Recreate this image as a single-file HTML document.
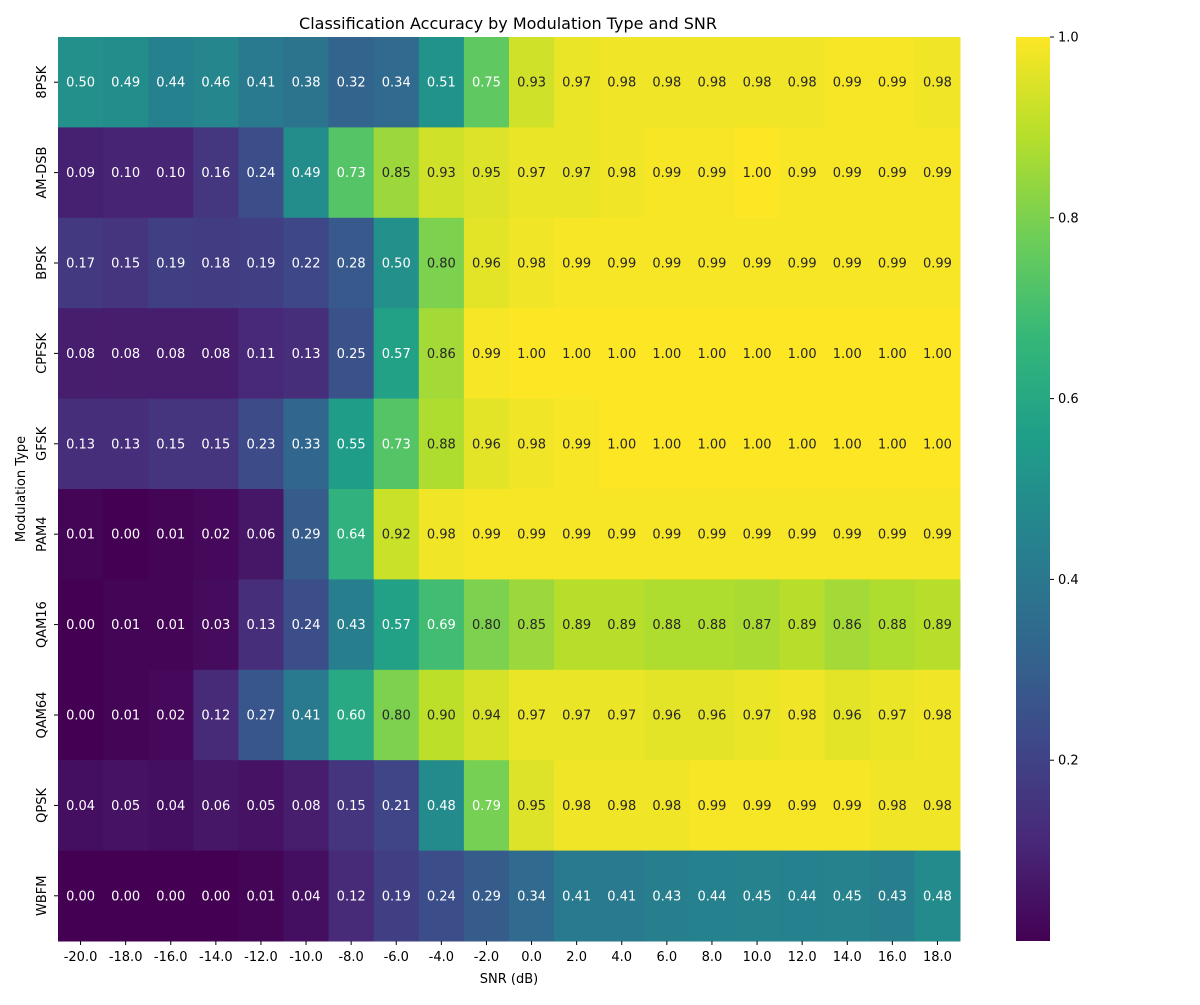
<!DOCTYPE html>
<html><head><meta charset="utf-8"><style>
body{margin:0;background:#fff;font-family:"Liberation Sans","DejaVu Sans",sans-serif;}
svg text{font-family:"DejaVu Sans","Liberation Sans",sans-serif;}
</style></head><body>
<svg id="chart" width="1200" height="1000" xmlns="http://www.w3.org/2000/svg">
<defs><linearGradient id="vg" x1="0" y1="1" x2="0" y2="0">
<stop offset="0" stop-color="#440154"/><stop offset="0.111" stop-color="#482878"/><stop offset="0.222" stop-color="#3e4989"/><stop offset="0.333" stop-color="#31688e"/><stop offset="0.444" stop-color="#26828e"/><stop offset="0.556" stop-color="#1f9e89"/><stop offset="0.667" stop-color="#35b779"/><stop offset="0.778" stop-color="#6ece58"/><stop offset="0.889" stop-color="#b5de2b"/><stop offset="1" stop-color="#fde725"/>
</linearGradient></defs>
<text x="508" y="29" font-size="16" text-anchor="middle">Classification Accuracy by Modulation Type and SNR</text>
<g id="cells"></g>
<g id="xt"></g><g id="yt"></g>
<text x="509" y="983" font-size="13" text-anchor="middle">SNR (dB)</text>
<text x="25" y="489" font-size="13" text-anchor="middle" transform="rotate(-90 25 489)">Modulation Type</text>
<rect x="1016" y="37" width="34" height="904" fill="url(#vg)"/>
<g id="cb"></g>
</svg>
<script>
const categories=["8PSK","AM-DSB","BPSK","CPFSK","GFSK","PAM4","QAM16","QAM64","QPSK","WBFM"];
const snrLabels=["-20.0","-18.0","-16.0","-14.0","-12.0","-10.0","-8.0","-6.0","-4.0","-2.0","0.0","2.0","4.0","6.0","8.0","10.0","12.0","14.0","16.0","18.0"];
const r8PSK=[0.50,0.49,0.44,0.46,0.41,0.38,0.32,0.34,0.51,0.75,0.93,0.97,0.98,0.98,0.98,0.98,0.98,0.99,0.99,0.98];
const rAMDSB=[0.09,0.10,0.10,0.16,0.24,0.49,0.73,0.85,0.93,0.95,0.97,0.97,0.98,0.99,0.99,1.00,0.99,0.99,0.99,0.99];
const rBPSK=[0.17,0.15,0.19,0.18,0.19,0.22,0.28,0.50,0.80,0.96,0.98,0.99,0.99,0.99,0.99,0.99,0.99,0.99,0.99,0.99];
const rCPFSK=[0.08,0.08,0.08,0.08,0.11,0.13,0.25,0.57,0.86,0.99,1.00,1.00,1.00,1.00,1.00,1.00,1.00,1.00,1.00,1.00];
const rGFSK=[0.13,0.13,0.15,0.15,0.23,0.33,0.55,0.73,0.88,0.96,0.98,0.99,1.00,1.00,1.00,1.00,1.00,1.00,1.00,1.00];
const rPAM4=[0.01,0.00,0.01,0.02,0.06,0.29,0.64,0.92,0.98,0.99,0.99,0.99,0.99,0.99,0.99,0.99,0.99,0.99,0.99,0.99];
const rQAM16=[0.00,0.01,0.01,0.03,0.13,0.24,0.43,0.57,0.69,0.80,0.85,0.89,0.89,0.88,0.88,0.87,0.89,0.86,0.88,0.89];
const rQAM64=[0.00,0.01,0.02,0.12,0.27,0.41,0.60,0.80,0.90,0.94,0.97,0.97,0.97,0.96,0.96,0.97,0.98,0.96,0.97,0.98];
const rQPSK=[0.04,0.05,0.04,0.06,0.05,0.08,0.15,0.21,0.48,0.79,0.95,0.98,0.98,0.98,0.99,0.99,0.99,0.99,0.98,0.98];
const rWBFM=[0.00,0.00,0.00,0.00,0.01,0.04,0.12,0.19,0.24,0.29,0.34,0.41,0.41,0.43,0.44,0.45,0.44,0.45,0.43,0.48];
const values=[r8PSK,rAMDSB,rBPSK,rCPFSK,rGFSK,rPAM4,rQAM16,rQAM64,rQPSK,rWBFM];
const cbTicks=[0.2,0.4,0.6,0.8,1.0];
const vmin=0,vmax=1;
const X0=58,X1=960,Y0=37,Y1=941;
const cw=(X1-X0)/snrLabels.length, ch=(Y1-Y0)/categories.length;
const xs=i=>X0+i*cw, ys=j=>Y0+j*ch;
const cbY=v=>Y1-(v-vmin)/(vmax-vmin)*(Y1-Y0);
const stops=["#440154","#482878","#3e4989","#31688e","#26828e","#1f9e89","#35b779","#6ece58","#b5de2b","#fde725"].map(h=>[1,3,5].map(k=>parseInt(h.substr(k,2),16)));
function vir(t){t=Math.max(0,Math.min(1,(t-vmin)/(vmax-vmin)));const p=t*9,i=Math.min(8,Math.floor(p)),f=p-i;const a=stops[i],b=stops[i+1];return `rgb(${a.map((c,k)=>Math.round(c+(b[k]-c)*f)).join(",")})`;}
const NS="http://www.w3.org/2000/svg";
function mk(tag,attrs,parent){const e=document.createElementNS(NS,tag);for(const k in attrs)e.setAttribute(k,attrs[k]);parent.appendChild(e);return e;}
const cells=document.getElementById('cells');
values.forEach((row,j)=>row.forEach((v,i)=>{
 const r=mk('rect',{x:xs(i),y:ys(j),width:cw+0.5,height:ch+0.5,fill:vir(v)},cells);
 
 
 const t=mk('text',{x:xs(i)+cw/2,y:ys(j)+ch/2+4.5,'font-size':13,'text-anchor':'middle',fill:v>=0.795?'#262626':'#ffffff'},cells);
 t.textContent=v.toFixed(2);
 
 
}));
const xt=document.getElementById('xt');
snrLabels.forEach((l,i)=>{
 mk('line',{x1:xs(i)+cw/2,x2:xs(i)+cw/2,y1:Y1,y2:Y1+4,stroke:'#000'},xt);
 const t=mk('text',{x:xs(i)+cw/2,y:Y1+20,'font-size':13,'text-anchor':'middle'},xt);t.textContent=l;
 
 
});
const yt=document.getElementById('yt');
categories.forEach((l,j)=>{
 const y=ys(j)+ch/2;
 mk('line',{x1:X0-4,x2:X0,y1:y,y2:y,stroke:'#000'},yt);
 const t=mk('text',{x:46,y:y,'font-size':13,'text-anchor':'middle',transform:`rotate(-90 46 ${y})`},yt);t.textContent=l;
 
 
});
const cb=document.getElementById('cb');
cbTicks.forEach(v=>{
 const y=cbY(v);
 mk('line',{x1:1050,x2:1054,y1:y,y2:y,stroke:'#000'},cb);
 const t=mk('text',{x:1058,y:y+4.5,'font-size':13},cb);t.textContent=v.toFixed(1);
 
 
});
</script>
</body></html>
